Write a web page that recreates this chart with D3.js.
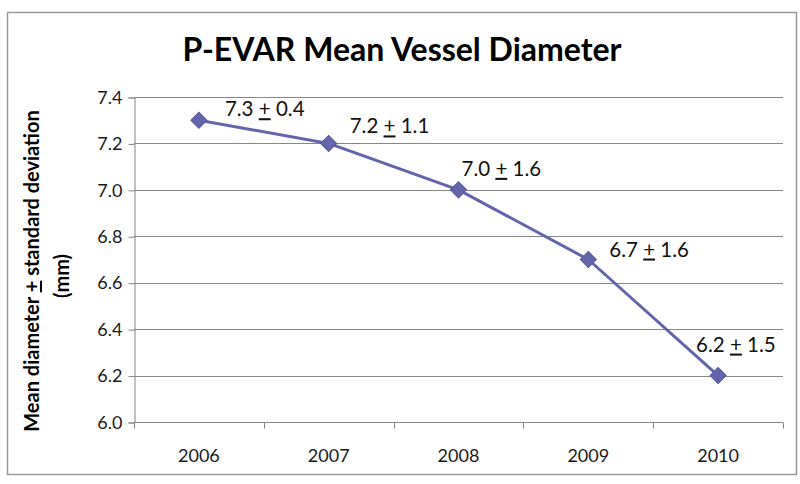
<!DOCTYPE html>
<html><head><meta charset="utf-8">
<script src="https://cdn.jsdelivr.net/npm/d3@7/dist/d3.min.js"></script>
<style>body{margin:0;background:#fff}svg{display:block}text{font-family:Lato,"Open Sans",sans-serif}</style>
</head><body><svg id="c" width="800" height="484"></svg>
<script>
const years = ["2006","2007","2008","2009","2010"];
const meanDiameter = [7.3, 7.2, 7.0, 6.7, 6.2];
const sdLabels = ["0.4","1.1","1.6","1.6","1.5"];
const meanLabels = ["7.3","7.2","7.0","6.7","6.2"];
const yTicks = [6.0, 6.2, 6.4, 6.6, 6.8, 7.0, 7.2, 7.4];
// label offsets relative to each point (layout only)
const labelDx = [26, 21, 3, 21, -22];
const labelDy = [-4, -10, -14, -3, -24];

const svg = d3.select("#c");
const m = {left:134, right:783, top:97, bottom:422};

svg.append("rect").attr("x",7.5).attr("y",12.5).attr("width",789).attr("height",462)
  .attr("fill","#fff").attr("stroke","#9a9a9a").attr("stroke-width",1.5);

const x = d3.scaleBand().domain(years).range([m.left, m.right]);
const y = d3.scaleLinear().domain([6.0, 7.4]).range([m.bottom, m.top]);

// gridlines
svg.append("g").selectAll("line").data(yTicks.slice(1)).join("line")
  .attr("x1", m.left).attr("x2", m.right)
  .attr("y1", d=>Math.round(y(d))+0.5).attr("y2", d=>Math.round(y(d))+0.5)
  .attr("stroke","#868686").attr("stroke-width",1);

// y axis
const yAxis = svg.append("g").attr("transform",`translate(${m.left+0.5},0.5)`)
  .call(d3.axisLeft(y).tickValues(yTicks).tickFormat(d3.format(".1f")).tickSize(6).tickPadding(6));
yAxis.selectAll("line,path").attr("stroke","#868686");
yAxis.selectAll("text").attr("font-size","18px").attr("fill","#1a1a1a").attr("font-family","Lato");

// x axis
const xg = svg.append("g").attr("transform",`translate(0,${Math.round(y(6.0))+0.5})`);
xg.append("line").attr("x1",m.left).attr("x2",m.right).attr("stroke","#868686");
const bounds = years.map(d=>x(d)).concat([m.right]);
xg.selectAll("line.t").data(bounds).join("line").attr("class","t")
  .attr("x1",d=>Math.round(d)+0.5).attr("x2",d=>Math.round(d)+0.5).attr("y1",0).attr("y2",6)
  .attr("stroke","#868686");
xg.selectAll("text").data(years).join("text")
  .attr("x",d=>x(d)+x.bandwidth()/2).attr("y",39).attr("text-anchor","middle")
  .attr("font-size","18px").attr("fill","#1a1a1a").text(d=>d);

// line
const pts = years.map((yr,i)=>({yr, v:meanDiameter[i], i}));
const line = d3.line().x(d=>x(d.yr)+x.bandwidth()/2).y(d=>y(d.v));
svg.append("path").datum(pts).attr("d",line).attr("fill","none")
  .attr("stroke","#6464aa").attr("stroke-width",3).attr("stroke-linejoin","round");

svg.append("g").selectAll("path").data(pts).join("path")
  .attr("d", d3.symbol(d3.symbolSquare, 130)())
  .attr("transform", d=>`translate(${x(d.yr)+x.bandwidth()/2},${y(d.v)}) rotate(45)`)
  .attr("fill","#6464aa").attr("stroke","#5a5a9e").attr("stroke-width",1);

// data labels
const lab = svg.append("g").selectAll("text").data(pts).join("text")
  .attr("x", d=>x(d.yr)+x.bandwidth()/2+labelDx[d.i])
  .attr("y", d=>y(d.v)+labelDy[d.i])
  .attr("font-size","20.5px").attr("fill","#111");
lab.append("tspan").text(d=>meanLabels[d.i]+" ");
lab.append("tspan").attr("text-decoration","underline").text("+");
lab.append("tspan").text(d=>" "+sdLabels[d.i]);

// title
svg.append("text").attr("x",402).attr("y",61).attr("text-anchor","middle")
  .attr("font-size","32px").attr("font-weight","bold").attr("fill","#000")
  .text("P-EVAR Mean Vessel Diameter");

// y label
const yl = svg.append("text").attr("transform","translate(39,271) rotate(-90)")
  .attr("text-anchor","middle").attr("font-size","20px").attr("font-weight","bold").attr("fill","#000");
yl.append("tspan").text("Mean diameter ");
yl.append("tspan").attr("text-decoration","underline").text("+");
yl.append("tspan").text(" standard deviation");
svg.append("text").attr("transform","translate(69,276) rotate(-90)")
  .attr("text-anchor","middle").attr("font-size","20px").attr("font-weight","bold").attr("fill","#000")
  .text("(mm)");
</script></body></html>
